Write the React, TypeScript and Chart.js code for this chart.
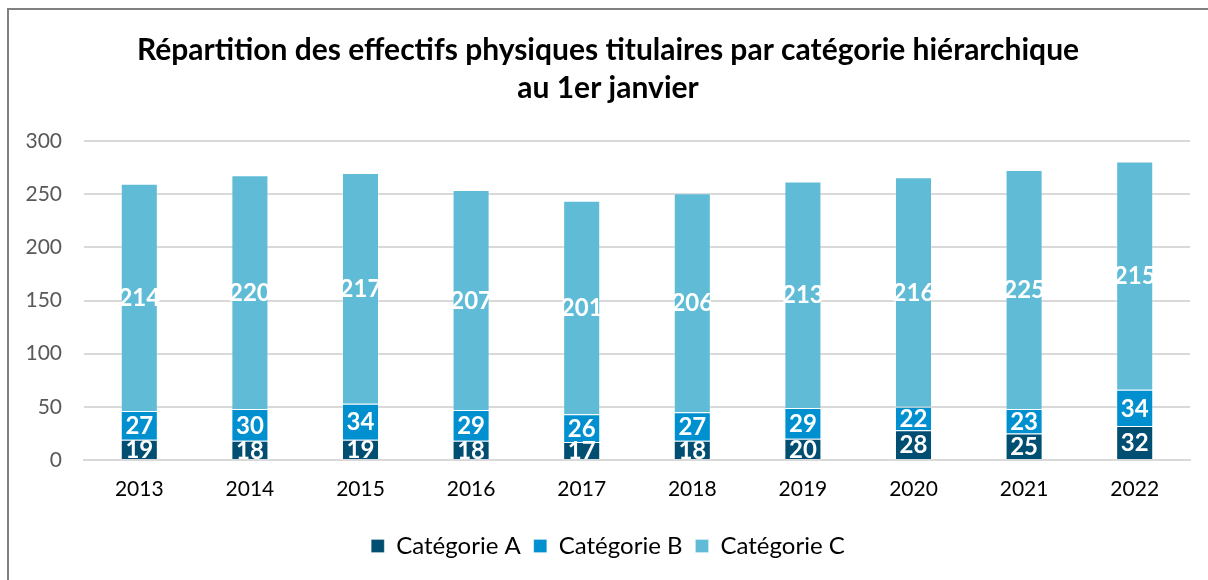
import React, { useEffect, useRef } from "react";
import { Chart, registerables } from "chart.js";

Chart.register(...registerables);

const years = ["2013", "2014", "2015", "2016", "2017", "2018", "2019", "2020", "2021", "2022"];
const categorieA = [19, 18, 19, 18, 17, 18, 20, 28, 25, 32];
const categorieB = [27, 30, 34, 29, 26, 27, 29, 22, 23, 34];
const categorieC = [214, 220, 217, 207, 201, 206, 213, 216, 225, 215];
const seriesNames = ["Catégorie A", "Catégorie B", "Catégorie C"];
const seriesColors = ["#004E71", "#0090CF", "#60BCD6"];
const yTicks = [0, 50, 100, 150, 200, 250, 300];
const titleLines = [
  "Répartition des effectifs physiques titulaires par catégorie hiérarchique",
  "au 1er janvier",
];

const FONT = "Lato, 'Open Sans', sans-serif";

const frame = {
  id: "frame",
  beforeDraw(chart: any) {
    const ctx = chart.ctx;
    ctx.save();
    ctx.fillStyle = "#ffffff";
    ctx.fillRect(0, 0, chart.width, chart.height);
    ctx.strokeStyle = "#808080";
    ctx.lineWidth = 2;
    ctx.beginPath();
    ctx.moveTo(8, chart.height + 5);
    ctx.lineTo(8, 9);
    ctx.lineTo(chart.width + 5, 9);
    ctx.stroke();
    ctx.restore();
  },
};

const dataLabels = {
  id: "dataLabels",
  afterDatasetsDraw(chart: any) {
    const ctx = chart.ctx;
    const area = chart.chartArea;
    ctx.save();
    ctx.beginPath();
    ctx.rect(area.left - 10, area.top, area.right - area.left + 20, area.bottom - area.top);
    ctx.clip();
    ctx.fillStyle = "#ffffff";
    ctx.font = `bold 24px ${FONT}`;
    ctx.textAlign = "center";
    ctx.textBaseline = "middle";
    chart.data.datasets.forEach((ds: any, i: number) => {
      const meta = chart.getDatasetMeta(i);
      meta.data.forEach((bar: any, j: number) => {
        const y = (bar.y + bar.base) / 2 + 1;
        ctx.fillText(String(ds.data[j]), bar.x, y);
      });
    });
    ctx.restore();
  },
};

export default function App() {
  const ref = useRef<HTMLCanvasElement>(null);
  useEffect(() => {
    document.body.style.margin = "0";
    const values = [categorieA, categorieB, categorieC];
    const chart = new Chart(ref.current!, {
      type: "bar",
      data: {
        labels: years,
        datasets: values.map((v, i) => ({
          label: seriesNames[i],
          data: v,
          backgroundColor: seriesColors[i],
          borderColor: "rgba(255,255,255,0.25)",
          borderWidth: 1,
          barPercentage: 0.335,
          categoryPercentage: 1,
        })),
      },
      options: {
        responsive: false,
        animation: false,
        layout: { padding: { top: 31, left: 26, right: 18, bottom: 12 } },
        plugins: {
          title: {
            display: true,
            text: titleLines,
            color: "#000000",
            font: { family: FONT, size: 30, weight: "bold", lineHeight: 1.27 },
            padding: { top: 0, bottom: 34 },
          },
          legend: {
            position: "bottom",
            labels: {
              boxWidth: 13,
              boxHeight: 13,
              padding: 13,
              color: "#000000",
              font: { family: FONT, size: 24 },
            },
          },
          tooltip: { enabled: false },
        },
        scales: {
          x: {
            stacked: true,
            grid: { display: false, drawTicks: false },
            border: { color: "#d9d9d9", width: 2 },
            ticks: { color: "#000000", padding: 17, font: { family: FONT, size: 21 } },
            afterFit: (scale: any) => {
              scale.height = 61;
            },
          },
          y: {
            stacked: true,
            min: 0,
            max: 300,
            afterBuildTicks: (scale: any) => {
              scale.ticks = yTicks.map((v) => ({ value: v }));
            },
            afterFit: (scale: any) => {
              scale.width = 58;
            },
            grid: { color: "#d9d9d9", lineWidth: 2, drawTicks: false },
            border: { display: false },
            ticks: { color: "#595959", padding: 22, font: { family: FONT, size: 21 } },
          },
        },
      },
      plugins: [frame, dataLabels],
    });
    return () => chart.destroy();
  }, []);
  return (
    <div style={{ width: 1208, height: 580 }}>
      <canvas ref={ref} width={1208} height={580} />
    </div>
  );
}
